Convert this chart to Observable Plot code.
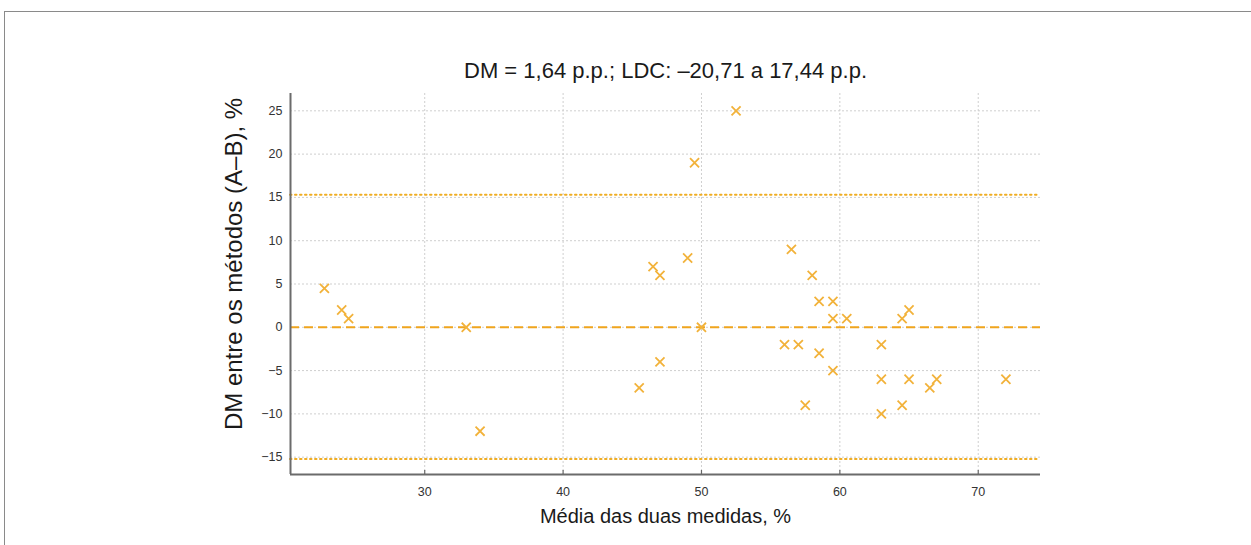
<!DOCTYPE html>
<html>
<head>
<meta charset="utf-8">
<script src="https://cdn.jsdelivr.net/npm/d3@7"></script>
<script src="https://cdn.jsdelivr.net/npm/@observablehq/plot@0.6"></script>
<style>
  html, body { margin: 0; padding: 0; background: #fff; }
  #wrap { position: relative; width: 1251px; height: 545px; overflow: hidden; }
  #frame { position: absolute; left: 4px; top: 11px; width: 1260px; height: 600px;
           border-top: 1.5px solid #8a8a8a; border-left: 1.5px solid #8a8a8a; box-sizing: border-box; }
  #chart { position: absolute; left: 0; top: 0; }
</style>
</head>
<body>
<div id="wrap"><div id="frame"></div><div id="chart"></div></div>
<script>
// Data
const meanValues = [22.75, 24, 24.5, 33, 34, 45.5, 46.5, 47, 47, 49, 49.5, 50, 52.5, 56, 56.5, 57, 57.5, 58, 58.5, 58.5, 59.5, 59.5, 59.5, 60.5, 63, 63, 63, 64.5, 64.5, 65, 65, 66.5, 67, 72];
const diffValues = [4.5, 2, 1, 0, -12, -7, 7, 6, -4, 8, 19, 0, 25, -2, 9, -2, -9, 6, 3, -3, 3, 1, -5, 1, -2, -6, -10, 1, -9, 2, -6, -7, -6, -6];
const meanDiffLine = [0];
const limitLines = [15.3, -15.2];
const xTicks = [30, 40, 50, 60, 70];
const yTicks = [-15, -10, -5, 0, 5, 10, 15, 20, 25];
const xDomain = [20.3, 74.5];
const yDomain = [-17, 27];
const titleText = "DM = 1,64 p.p.; LDC: \u201320,71 a 17,44 p.p.";
const xLabel = "Média das duas medidas, %";
const yLabel = "DM entre os métodos (A\u2013B), %";

const points = meanValues.map((m, i) => ({mean: m, diff: diffValues[i]}));

const orange = "#f2b23a";
const font = "'Liberation Sans', Arial, sans-serif";

const chart = Plot.plot({
  width: 1251,
  height: 545,
  marginLeft: 290,
  marginRight: 211,
  marginTop: 93,
  marginBottom: 71,
  style: {fontFamily: font, background: "transparent", overflow: "visible"},
  x: {domain: xDomain, ticks: xTicks},
  y: {domain: yDomain, ticks: yTicks},
  marks: [
    Plot.gridX(xTicks, {stroke: "#cfcfcf", strokeOpacity: 1, strokeDasharray: "2,2"}),
    Plot.gridY(yTicks, {stroke: "#cfcfcf", strokeOpacity: 1, strokeDasharray: "2,2"}),
    Plot.ruleY(limitLines, {stroke: "#f0ad22", strokeWidth: 2, strokeDasharray: "1.5,3.5", strokeLinecap: "round"}),
    Plot.ruleY(meanDiffLine, {stroke: "#f0a51e", strokeWidth: 2, strokeDasharray: "9,5"}),
    Plot.dot(points, {x: "mean", y: "diff", symbol: "times", r: 4.2, stroke: orange, strokeWidth: 1.8}),
    Plot.axisX(xTicks, {tickSize: 0, tickPadding: 13, fontSize: 12.5, color: "#333", label: null}),
    Plot.ruleX(xTicks, {y1: yDomain[0], y2: yDomain[0], insetTop: -4, stroke: "#666", strokeWidth: 1.2}),
    Plot.axisY(yTicks, {tickSize: 0, tickPadding: 8, fontSize: 12.5, color: "#333", label: null}),
    Plot.ruleX([xDomain[0]], {stroke: "#6b6b6b", strokeWidth: 2}),
    Plot.ruleY([yDomain[0]], {stroke: "#6b6b6b", strokeWidth: 2}),
    Plot.text([titleText], {frameAnchor: "top", dy: -31, fontSize: 22, fill: "#1a1a1a", fontFamily: font}),
    Plot.text([xLabel], {frameAnchor: "bottom", dy: 48, fontSize: 20, fill: "#1a1a1a", fontFamily: font}),
    Plot.text([yLabel], {frameAnchor: "left", textAnchor: "middle", dx: -56, dy: -20, rotate: -90, fontSize: 24, fill: "#1a1a1a", fontFamily: font})
  ]
});
document.getElementById("chart").appendChild(chart);
</script>
</body>
</html>
